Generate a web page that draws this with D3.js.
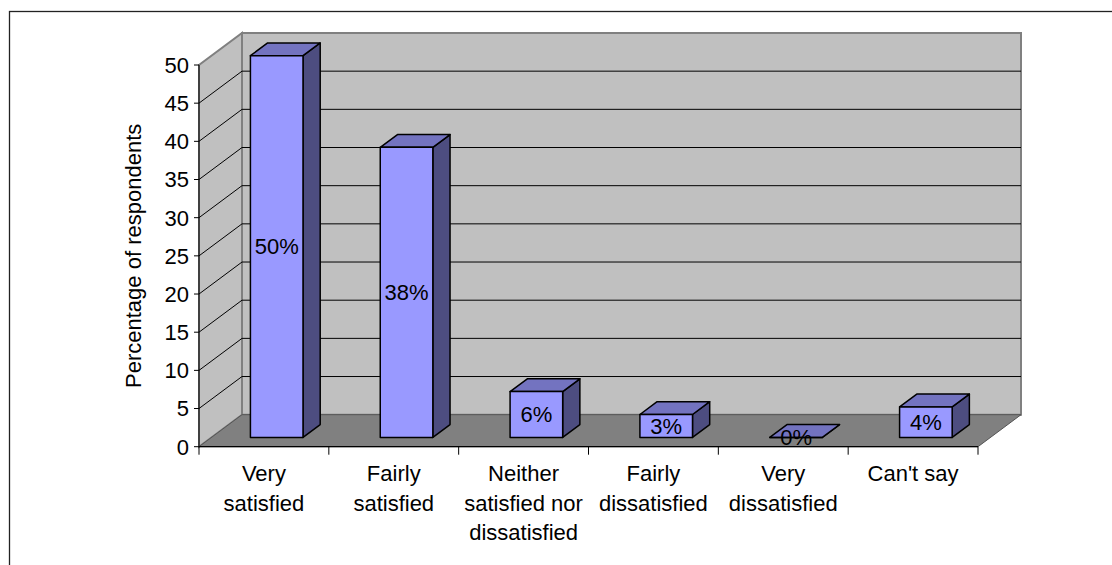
<!DOCTYPE html>
<html>
<head>
<meta charset="utf-8">
<script src="https://cdn.jsdelivr.net/npm/d3@7"></script>
<style>
  html, body { margin: 0; padding: 0; background: #fff; }
  svg { display: block; font-family: "Liberation Sans", Arial, sans-serif; }
</style>
</head>
<body>
<svg id="chart" width="1112" height="565"></svg>
<script>
// Satisfaction survey results
const categories = [
  "Very satisfied",
  "Fairly satisfied",
  "Neither satisfied nor dissatisfied",
  "Fairly dissatisfied",
  "Very dissatisfied",
  "Can't say"
];
const categoryLines = [
  ["Very", "satisfied"],
  ["Fairly", "satisfied"],
  ["Neither", "satisfied nor", "dissatisfied"],
  ["Fairly", "dissatisfied"],
  ["Very", "dissatisfied"],
  ["Can't say"]
];
const values = [50, 38, 6, 3, 0, 4];
const valueLabels = ["50%", "38%", "6%", "3%", "0%", "4%"];
const yTicks = [0, 5, 10, 15, 20, 25, 30, 35, 40, 45, 50];
const yTitle = "Percentage of respondents";

const svg = d3.select("#chart");

// plot box (front plane) and 3D depth offset
const plotLeft = 199, plotRight = 978, plotBottom = 446.7, plotTop = 65;
const DX = 43, DY = -32;
const barFront = 0.29, barBack = 0.69;

const x = d3.scaleBand().domain(categories).range([plotLeft, plotRight]).paddingInner(0).paddingOuter(0);
const y = d3.scaleLinear().domain([0, 50]).range([plotBottom, plotTop]);

const pt = (px, v, d) => [px + DX * d, y(v) + DY * d];
const poly = pts => pts.map(p => p.join(",")).join(" ");

// outer chart frame
svg.append("rect")
  .attr("x", 9.5).attr("y", 11.5)
  .attr("width", 1200).attr("height", 700)
  .attr("fill", "none").attr("stroke", "#222").attr("stroke-width", 1.3);

const walls = svg.append("g");
// back wall
walls.append("polygon")
  .attr("points", poly([pt(plotLeft, 0, 1), pt(plotRight, 0, 1), pt(plotRight, 50, 1), pt(plotLeft, 50, 1)]))
  .attr("fill", "#c0c0c0").attr("stroke", "#808080").attr("stroke-width", 2);
// side wall
walls.append("polygon")
  .attr("points", poly([pt(plotLeft, 0, 0), pt(plotLeft, 50, 0), pt(plotLeft, 50, 1), pt(plotLeft, 0, 1)]))
  .attr("fill", "#c0c0c0").attr("stroke", "#808080").attr("stroke-width", 2);
// floor
walls.append("polygon")
  .attr("points", poly([pt(plotLeft, 0, 0), pt(plotRight, 0, 0), pt(plotRight, 0, 1), pt(plotLeft, 0, 1)]))
  .attr("fill", "#808080").attr("stroke", "#555").attr("stroke-width", 1);

// gridlines across back and side walls
const grid = svg.append("g").attr("stroke", "#000").attr("stroke-width", 1).attr("fill", "none");
yTicks.filter(t => t > 0 && t < 50).forEach(t => {
  grid.append("polyline")
    .attr("points", poly([pt(plotLeft, t, 0), pt(plotLeft, t, 1), pt(plotRight, t, 1)]));
});

// value axis
const yAxis = svg.append("g");
yAxis.append("line")
  .attr("x1", plotLeft).attr("x2", plotLeft).attr("y1", y(0)).attr("y2", y(50))
  .attr("stroke", "#000").attr("stroke-width", 1);
yAxis.selectAll("line.tick").data(yTicks).join("line")
  .attr("class", "tick")
  .attr("x1", plotLeft - 5).attr("x2", plotLeft)
  .attr("y1", d => y(d)).attr("y2", d => y(d))
  .attr("stroke", "#000");
yAxis.selectAll("text").data(yTicks).join("text")
  .attr("x", plotLeft - 10).attr("y", d => y(d))
  .attr("dy", "0.36em")
  .attr("text-anchor", "end")
  .attr("font-size", 22)
  .text(d => d);

svg.append("text")
  .attr("transform", `translate(141,${(y(0) + y(50)) / 2}) rotate(-90)`)
  .attr("text-anchor", "middle")
  .attr("font-size", 22)
  .text(yTitle);

// category axis
const xAxis = svg.append("g");
xAxis.append("line")
  .attr("x1", plotLeft).attr("x2", plotRight).attr("y1", y(0)).attr("y2", y(0))
  .attr("stroke", "#000").attr("stroke-width", 1.2);
const bounds = categories.map(c => x(c)).concat([plotRight]);
xAxis.selectAll("line.tick").data(bounds).join("line")
  .attr("class", "tick")
  .attr("x1", d => d).attr("x2", d => d)
  .attr("y1", y(0)).attr("y2", y(0) + 8)
  .attr("stroke", "#000");
const catText = xAxis.selectAll("text").data(categories).join("text")
  .attr("x", d => x(d) + x.bandwidth() / 2)
  .attr("y", 481)
  .attr("text-anchor", "middle")
  .attr("font-size", 22);
catText.each(function(d, i) {
  d3.select(this).selectAll("tspan").data(categoryLines[i]).join("tspan")
    .attr("x", x(d) + x.bandwidth() / 2)
    .attr("dy", (l, j) => j === 0 ? 0 : 29.5)
    .text(l => l);
});

// 3D columns
const bw = x.bandwidth();
const bars = svg.append("g").attr("stroke", "#000").attr("stroke-width", 1.5).attr("stroke-linejoin", "round");
categories.forEach((c, i) => {
  const v = values[i];
  const xl = x(c) + bw * 0.3, xr = x(c) + bw * 0.705;
  const g = bars.append("g");
  g.append("polygon")
    .attr("points", poly([pt(xr, 0, barFront), pt(xr, 0, barBack), pt(xr, v, barBack), pt(xr, v, barFront)]))
    .attr("fill", "#4d4d80");
  g.append("polygon")
    .attr("points", poly([pt(xl, v, barFront), pt(xr, v, barFront), pt(xr, v, barBack), pt(xl, v, barBack)]))
    .attr("fill", "#7373c0");
  g.append("polygon")
    .attr("points", poly([pt(xl, 0, barFront), pt(xr, 0, barFront), pt(xr, v, barFront), pt(xl, v, barFront)]))
    .attr("fill", "#9999ff");
});

// value labels centred on each column's front face
svg.append("g").selectAll("text").data(categories).join("text")
  .attr("x", (c) => x(c) + bw * 0.5025 + DX * barFront)
  .attr("y", (c, i) => (y(0) + y(values[i])) / 2 + DY * barFront)
  .attr("dy", "0.36em")
  .attr("text-anchor", "middle")
  .attr("font-size", 22)
  .text((c, i) => valueLabels[i]);
</script>
</body>
</html>
